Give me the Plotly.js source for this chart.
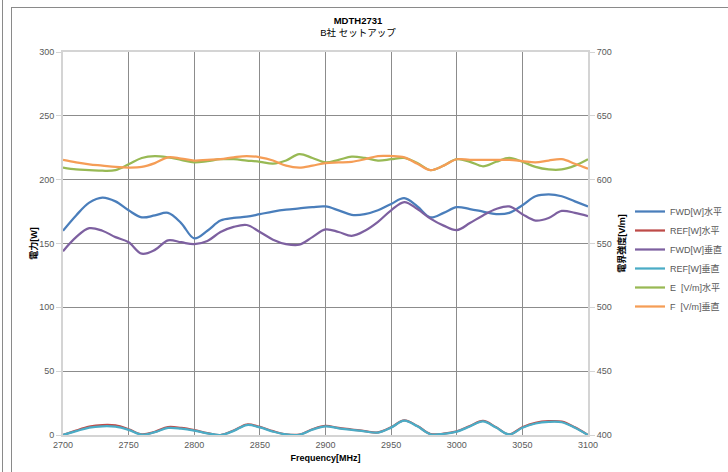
<!DOCTYPE html>
<html>
<head>
<meta charset="utf-8">
<script src="https://cdn.plot.ly/plotly-3.0.1.min.js"></script>
<style>
html, body { margin:0; padding:0; background:#fff; width:728px; height:472px; overflow:hidden; }
#frameA { position:absolute; left:2px; top:0; width:0; height:472px; border-left:1px solid #8a8a8a; }
#frameB { position:absolute; left:11px; top:7px; width:717px; height:465px; border-left:1px solid #8a8a8a; border-top:1px solid #8a8a8a; }
#chart { position:absolute; left:0; top:0; width:728px; height:472px; }
</style>
</head>
<body>
<div id="frameA"></div>
<div id="frameB"></div>
<div id="chart"></div>
<script>
const freq = [2700,2710,2720,2730,2740,2750,2760,2770,2780,2790,2800,2810,2820,2830,2840,2850,2860,2870,2880,2890,2900,2910,2920,2930,2940,2950,2960,2970,2980,2990,3000,3010,3020,3030,3040,3050,3060,3070,3080,3090,3100];

const fwdH = [160,172,182,186,183,176,170.5,172,174,166,154,160,168,170,171,173,175,176.5,177.5,178.5,179,176,172.5,173,176,181,185.5,179,170.5,174,178.5,177,175,173,174,180,187,188.5,187,183,179];
const refH = [0,3.5,6.5,7.8,7.5,4.5,0.5,2.5,6.2,5.5,3.8,1.5,0,3.5,8.2,6.3,3,0.5,0.3,4.5,7.2,5.5,4.3,3,2,6,11.5,7,0.8,1,2.8,7,11,6,0.5,6,9.5,10.8,10.5,6,0];
const fwdV = [144,155,162,160,155,151,142,145,152.5,151,149.5,152,159,163,164.5,159,153,149.5,149,155,161,159,156,160,167,176,182.5,177,169.5,164,160.5,166,172,177,179,173,168,170,175.5,174,171.5];
const refV = [0,3,5.8,6.8,6.5,4,0.3,2.2,5.5,5,3.5,1.3,0,3.2,7.8,6,2.7,0.4,0.2,4.2,6.8,5.2,4,2.8,1.9,5.8,11.2,6.8,0.6,0.9,2.6,6.7,10.7,5.8,0.4,5.7,9,10.3,10,5.7,0];
const eH = [609.5,608,607.5,607,607.5,612,617,618.5,617.5,615.5,613.5,614.5,616,616,615,614,612.5,615,620,617,613.5,615.5,618,617,615,616,617,613,607.5,611,616,614,610.5,614,617,614,610,608,608,611,616];
const fV = [615.5,613.5,612,611,610,609.5,610,613,617.5,616.5,615,615.5,616,617.5,618.5,617.5,615,611,609.5,611,613,613.5,614,616,618.5,618.5,617.5,612.5,607.5,611,616,615.5,615.5,615.5,615.5,614.5,613.5,615,616,612.5,608.5];

const seriesNames = ['FWD[W]水平','REF[W]水平','FWD[W]垂直','REF[W]垂直','E  [V/m]水平','F  [V/m]垂直'];
const seriesColors = ['#4a7ebb','#be4b48','#7d60a0','#4bacc6','#98b954','#f59d56'];

const xTicks = [2700,2750,2800,2850,2900,2950,3000,3050,3100];
const yTicks = [0,50,100,150,200,250,300];
const y2Ticks = [400,450,500,550,600,650,700];

const FONT = '"Liberation Sans", "Noto Sans CJK JP", sans-serif';

const data = [fwdH, refH, fwdV, refV, eH, fV].map((vals, i) => ({
  x: freq, y: vals, name: seriesNames[i], type: 'scatter', mode: 'lines',
  yaxis: i >= 4 ? 'y2' : 'y',
  line: {color: seriesColors[i], width: 2.25, shape: 'spline', smoothing: 1}
}));

const layout = {
  width: 728, height: 472,
  margin: {l: 63, r: 140, t: 52, b: 37, autoexpand: false},
  paper_bgcolor: 'rgba(0,0,0,0)', plot_bgcolor: 'rgba(0,0,0,0)',
  font: {family: FONT, size: 9, color: '#595959'},
  title: {
    text: '<b>MDTH2731</b><br>B社 セットアップ',
    x: 358/728, xref: 'container', xanchor: 'center',
    y: 1 - 24/472, yref: 'container', yanchor: 'top',
    font: {family: FONT, size: 9.5, color: '#000'}
  },
  xaxis: {
    range: [2700, 3100], tickvals: xTicks, ticktext: xTicks.map(String),
    showgrid: true, gridcolor: '#8c8c8c', gridwidth: 1,
    showline: true, linecolor: '#d4d4d4', linewidth: 2, mirror: true,
    ticks: '', zeroline: false, automargin: false,
    tickfont: {size: 9, color: '#595959'},
    title: {text: '<b>Frequency[MHz]</b>', font: {size: 9, color: '#000'}, standoff: 6}
  },
  yaxis: {
    range: [0, 300], tickvals: yTicks,
    showgrid: true, gridcolor: '#8c8c8c', gridwidth: 1,
    showline: true, linecolor: '#d4d4d4', linewidth: 2, mirror: true,
    ticks: 'outside', ticklen: 5, tickcolor: '#d4d4d4', tickwidth: 1,
    zeroline: false, automargin: false,
    tickfont: {size: 9, color: '#595959'},
    title: {text: '<b>電力[W]</b>', font: {size: 9, color: '#000'}, standoff: 0}
  },
  yaxis2: {
    range: [400, 700], tickvals: y2Ticks, overlaying: 'y', side: 'right',
    showgrid: false, zeroline: false, automargin: false,
    showline: true, linecolor: '#d4d4d4', linewidth: 2,
    ticks: 'outside', ticklen: 5, tickcolor: '#d4d4d4',
    tickfont: {size: 9, color: '#595959'},
    title: {text: '<b>電界強度[V/m]</b>', font: {size: 9, color: '#000'}, standoff: 8}
  },
  legend: {
    x: (630 - 63) / 525, xanchor: 'left',
    y: (435 - 259) / 383, yanchor: 'middle',
    font: {size: 9, color: '#595959'},
    bgcolor: 'rgba(0,0,0,0)', tracegroupgap: 0, itemwidth: 30
  },
  showlegend: true
};

Plotly.newPlot('chart', data, layout, {displayModeBar: false, staticPlot: true});
</script>
</body>
</html>
